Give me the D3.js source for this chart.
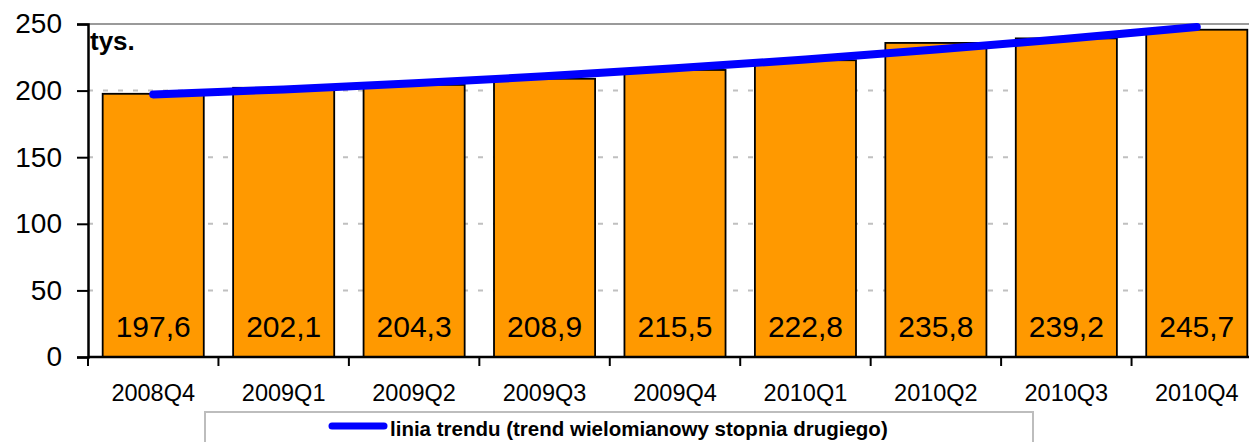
<!DOCTYPE html>
<html><head><meta charset="utf-8">
<script src="https://cdn.jsdelivr.net/npm/d3@7/dist/d3.min.js"></script>
<style>html,body{margin:0;padding:0;background:#fff;overflow:hidden}svg{display:block}text{font-family:"Liberation Sans",Arial,sans-serif}</style>
</head><body>
<script>
const categories = ["2008Q4","2009Q1","2009Q2","2009Q3","2009Q4","2010Q1","2010Q2","2010Q3","2010Q4"];
const values = [197.6,202.1,204.3,208.9,215.5,222.8,235.8,239.2,245.7];
const valueLabels = ["197,6","202,1","204,3","208,9","215,5","222,8","235,8","239,2","245,7"];
const trendValues = [197.1,200.9,205.5,210.7,216.7,223.4,230.8,238.9,247.8];
const yTicks = [0,50,100,150,200,250];
const unitLabel = "tys.";
const legendLabel = "linia trendu (trend wielomianowy stopnia drugiego)";

const W = 1249, H = 442;
const svg = d3.select("body").append("svg").attr("width", W).attr("height", H);

const x = d3.scaleBand().domain(categories).range([88, 1262]).paddingInner(0.225).paddingOuter(0.1125);
const y = d3.scaleLinear().domain([0, 250]).range([357, 24]);

// gridlines
svg.append("g").selectAll("line").data(yTicks.filter(d => d > 0 && d < 250)).join("line")
  .attr("x1", 88).attr("x2", W).attr("y1", d => y(d)).attr("y2", d => y(d))
  .attr("stroke", "#c0c0c0").attr("stroke-width", 2).attr("stroke-dasharray", "5,10");
svg.append("line").attr("x1", 88).attr("x2", W).attr("y1", y(250)).attr("y2", y(250))
  .attr("stroke", "#9a9a9a").attr("stroke-width", 2);

// bars
svg.append("g").selectAll("rect").data(values).join("rect")
  .attr("x", (d, i) => x(categories[i]))
  .attr("width", x.bandwidth())
  .attr("y", d => y(d))
  .attr("height", d => y(0) - y(d))
  .attr("fill", "#FF9900").attr("stroke", "#000").attr("stroke-width", 1.8);

// value labels
svg.append("g").selectAll("text").data(valueLabels).join("text")
  .attr("x", (d, i) => x(categories[i]) + x.bandwidth() / 2)
  .attr("y", 337)
  .attr("text-anchor", "middle").attr("font-size", 30).attr("fill", "#000")
  .text(d => d);

// y axis
const yAxis = d3.axisLeft(y).tickValues(yTicks).tickSize(11).tickPadding(15).tickFormat(d3.format("d"));
const yg = svg.append("g").attr("transform", "translate(88,0)").call(yAxis);
yg.select(".domain").attr("stroke", "#000").attr("stroke-width", 2.5);
yg.selectAll(".tick line").attr("stroke", "#000").attr("stroke-width", 2);
yg.selectAll(".tick text").attr("font-size", 28).attr("fill", "#000").attr("font-family", "Liberation Sans, Arial, sans-serif");

// x axis
const xg = svg.append("g").attr("transform", "translate(0,357)");
xg.append("line").attr("x1", 88).attr("x2", W).attr("y1", 0).attr("y2", 0).attr("stroke", "#000").attr("stroke-width", 2.5);
const boundaries = categories.map(c => x(c) - (x.step() - x.bandwidth()) / 2);
xg.selectAll("line.tk").data(boundaries).join("line").attr("class", "tk")
  .attr("x1", d => d).attr("x2", d => d).attr("y1", 0).attr("y2", 9)
  .attr("stroke", "#000").attr("stroke-width", 2);
xg.selectAll("text").data(categories).join("text")
  .attr("x", d => x(d) + x.bandwidth() / 2).attr("y", 44)
  .attr("text-anchor", "middle").attr("font-size", 23.5).attr("fill", "#000")
  .text(d => d);

// unit label
svg.append("text").attr("x", 90).attr("y", 50).attr("font-size", 26).attr("font-weight", "bold").text(unitLabel);

// trend line
const line = d3.line()
  .x((d, i) => x(categories[i]) + x.bandwidth() / 2)
  .y(d => y(d))
  .curve(d3.curveCatmullRom);
svg.append("path").datum(trendValues).attr("d", line)
  .attr("fill", "none").attr("stroke", "#0000FF").attr("stroke-width", 8).attr("stroke-linecap", "round");

// legend
const lg = svg.append("g");
lg.append("rect").attr("x", 205).attr("y", 412).attr("width", 828).attr("height", 60)
  .attr("fill", "#fff").attr("stroke", "#bdbdbd").attr("stroke-width", 2);
lg.append("line").attr("x1", 332).attr("x2", 384).attr("y1", 426).attr("y2", 426)
  .attr("stroke", "#0000FF").attr("stroke-width", 7).attr("stroke-linecap", "round");
lg.append("text").attr("x", 390).attr("y", 436).attr("font-size", 20.5).attr("font-weight", "bold").text(legendLabel);
</script>
</body></html>
